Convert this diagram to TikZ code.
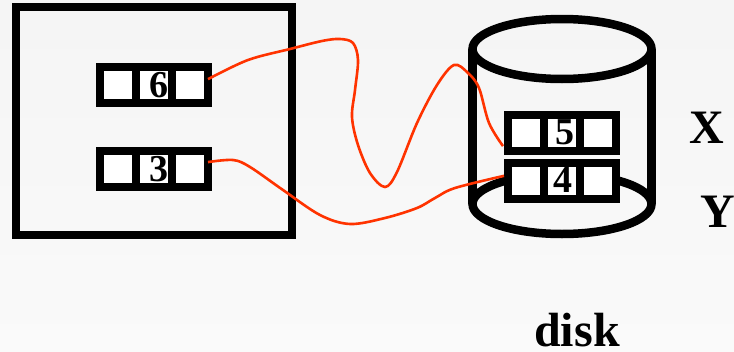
\documentclass[tikz,border=0pt]{standalone}
\usepackage{fontspec}
\setmainfont{Liberation Serif}
\usetikzlibrary{shapes.geometric}

\begin{document}
\begin{tikzpicture}[x=1pt,y=-1pt,
                    every node/.style={inner sep=0pt,outer sep=0pt},
                    frame/.style={draw,line width=8.5pt,minimum width=276pt,minimum height=228pt},
                    disc/.style={ellipse,draw,line width=8.5pt,minimum width=179pt,minimum height=60pt},
                    cell/.style={draw,fill=white,line width=8.5pt,minimum size=36pt},
                    val/.style={font=\fontsize{38}{38}\selectfont\bfseries},
                    lbl/.style={font=\fontsize{48}{48}\selectfont\bfseries},
                    wire/.style={line width=2.6pt,draw={rgb,255:red,255;green,51;blue,0}}]
  \useasboundingbox (0,0) rectangle (734,351);
  \fill[top color=black!4,bottom color=black!2] (0,0) rectangle (734,351);
  \node[frame] (mem) at (154,121) {};
  \node[disc] (top) at (562,49) {};
  \node[disc] (bot) at (562,204) {};
  \draw[line width=8.5pt] (top.west)--(bot.west);
  \draw[line width=8.5pt] (top.east)--(bot.east);
  \node[cell] (a1) at (118,85)  {};
  \node[cell] (a2) at (154,85)  {};
  \node[cell] (a3) at (190,85)  {};
  \node[cell] (b1) at (118,169) {};
  \node[cell] (b2) at (154,169) {};
  \node[cell] (b3) at (190,169) {};
  \node[cell] (x1) at (526,133) {};
  \node[cell] (x2) at (562,133) {};
  \node[cell] (x3) at (598,133) {};
  \node[cell] (y1) at (526,181) {};
  \node[cell] (y2) at (562,181) {};
  \node[cell] (y3) at (598,181) {};
  \node[val] (v6) at (159,85)  {6};
  \node[val] (v3) at (159,169) {3};
  \node[val] (v5) at (565,132) {5};
  \node[val] (v4) at (563,180) {4};
  \node[lbl] (lx) at (707,128) {X};
  \node[lbl] (ly) at (718,212) {Y};
  \node[lbl] (ld) at (577,330) {disk};
  \draw[wire] plot[smooth,tension=.55] coordinates {(a3.18) (248,60) (290,49) (322,41) (340,39) (353,43) (358,60) (355,90) (352,117) (358,145) (370,173) (385,187) (397,172) (417,123) (437,85) (454,65) (468,73) (479,88) (489,123) ([xshift=-5pt]x1.216)};
  \draw[wire] plot[smooth,tension=.55] coordinates {(b3.21) (233,160) (250,167) (283,190) (320,215) (350,224) (385,218) (417,208) (435,198) (455,188) ([xshift=-4pt]y1.164)};
\end{tikzpicture}
\end{document}
